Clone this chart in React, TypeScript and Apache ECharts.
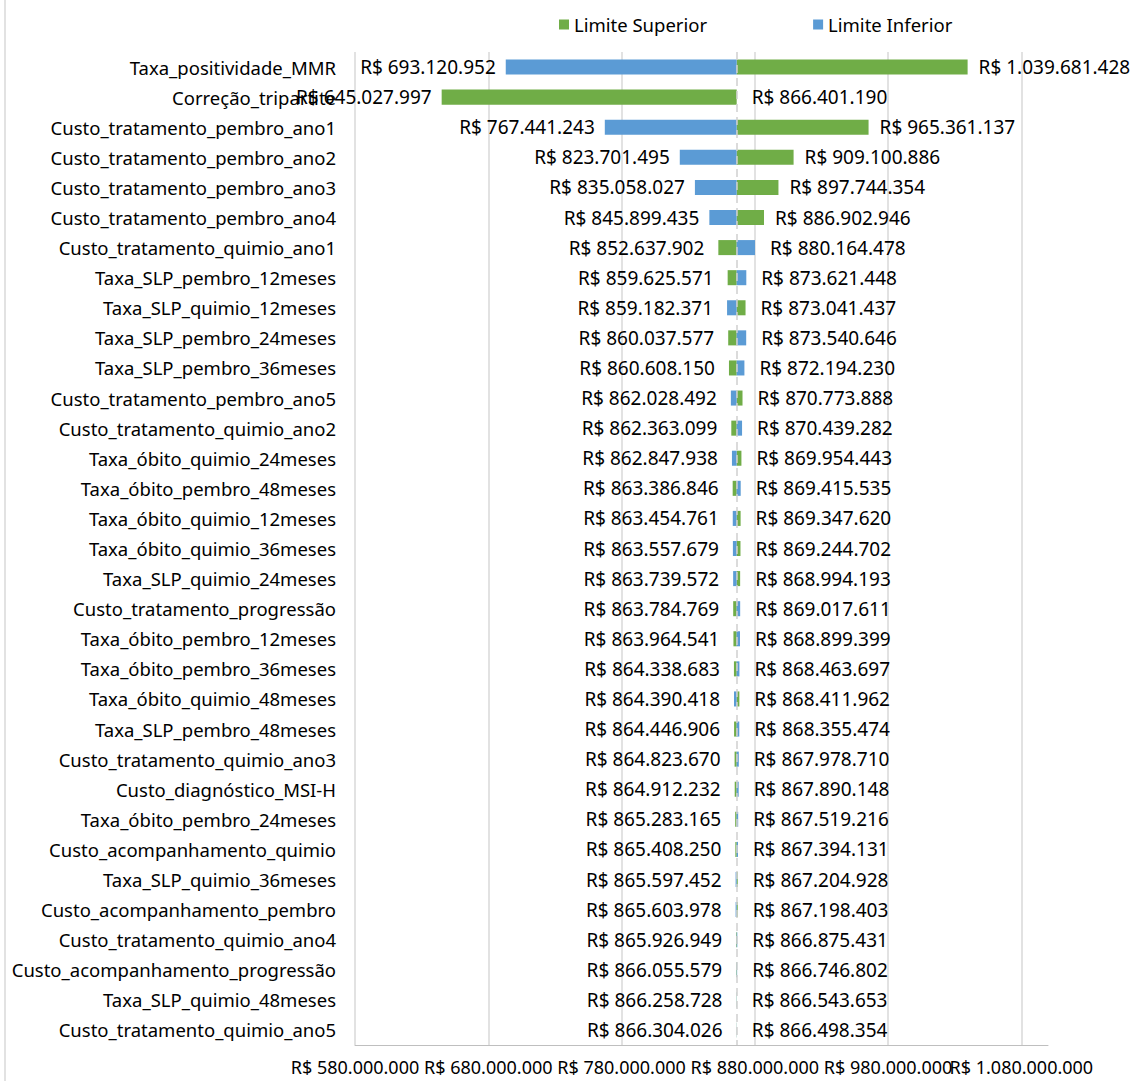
import React, { useEffect, useRef } from "react";
import * as echarts from "echarts";

const BASE = 866401190;

const categories = [
  "Taxa_positividade_MMR",
  "Correção_tripartite",
  "Custo_tratamento_pembro_ano1",
  "Custo_tratamento_pembro_ano2",
  "Custo_tratamento_pembro_ano3",
  "Custo_tratamento_pembro_ano4",
  "Custo_tratamento_quimio_ano1",
  "Taxa_SLP_pembro_12meses",
  "Taxa_SLP_quimio_12meses",
  "Taxa_SLP_pembro_24meses",
  "Taxa_SLP_pembro_36meses",
  "Custo_tratamento_pembro_ano5",
  "Custo_tratamento_quimio_ano2",
  "Taxa_óbito_quimio_24meses",
  "Taxa_óbito_pembro_48meses",
  "Taxa_óbito_quimio_12meses",
  "Taxa_óbito_quimio_36meses",
  "Taxa_SLP_quimio_24meses",
  "Custo_tratamento_progressão",
  "Taxa_óbito_pembro_12meses",
  "Taxa_óbito_pembro_36meses",
  "Taxa_óbito_quimio_48meses",
  "Taxa_SLP_pembro_48meses",
  "Custo_tratamento_quimio_ano3",
  "Custo_diagnóstico_MSI-H",
  "Taxa_óbito_pembro_24meses",
  "Custo_acompanhamento_quimio",
  "Taxa_SLP_quimio_36meses",
  "Custo_acompanhamento_pembro",
  "Custo_tratamento_quimio_ano4",
  "Custo_acompanhamento_progressão",
  "Taxa_SLP_quimio_48meses",
  "Custo_tratamento_quimio_ano5",
];

const limiteSuperior = [
  1039681428, 645027997, 965361137, 909100886, 897744354, 886902946, 852637902,
  859625571, 873041437, 860037577, 860608150, 870773888, 862363099, 869954443,
  863386846, 869347620, 869244702, 868994193, 863784769, 863964541, 864338683,
  868411962, 864446906, 864823670, 864912232, 865283165, 865408250, 867204928,
  867198403, 865926949, 866055579, 866543653, 866304026,
];

const limiteInferior = [
  693120952, 866401190, 767441243, 823701495, 835058027, 845899435, 880164478,
  873621448, 859182371, 873540646, 872194230, 862028492, 870439282, 862847938,
  869415535, 863454761, 863557679, 863739572, 869017611, 868899399, 868463697,
  864390418, 868355474, 867978710, 867890148, 867519216, 867394131, 865597452,
  865603978, 866875431, 866746802, 866258728, 866498354,
];

const axisTicks = [580000000, 680000000, 780000000, 880000000, 980000000, 1080000000];
const AXIS_MAX = 1100000000;

const FONT = "Noto Sans";
const FS_VAL = 19;
const FS_TXT = 18.5;
const FS_AXIS = 18;

const fmt = (v: number) =>
  "R$ " + Math.round(v).toString().replace(/\B(?=(\d{3})+(?!\d))/g, ".");

function makeRender(color: string) {
  return (params: any, api: any) => {
    const v = api.value(0);
    const cat = api.value(1);
    const p = api.coord([v, cat]);
    const b = api.coord([BASE, cat]);
    const h = api.size([0, 1])[1] * 0.5;
    const x0 = Math.min(p[0], b[0]);
    const w = Math.abs(p[0] - b[0]);
    const left = v < BASE;
    const gap = w < 20 ? 14 : 10;
    return {
      type: "group",
      children: [
        {
          type: "rect",
          shape: { x: x0, y: p[1] - h / 2, width: w, height: h },
          style: { fill: color },
        },
        {
          type: "text",
          style: {
            text: fmt(v),
            x: left ? x0 - gap : x0 + w + gap + 1,
            y: p[1],
            align: left ? "right" : "left",
            verticalAlign: "middle",
            fill: "#000000",
            font: `${FS_VAL}px "${FONT}"`,
          },
        },
      ],
    };
  };
}

export default function App() {
  const ref = useRef<HTMLDivElement>(null);
  useEffect(() => {
    if (!ref.current) return;
    const chart = echarts.init(ref.current, null, { renderer: "svg" });
    const supData = limiteSuperior.map((v, i) => [v, i]);
    const infData = limiteInferior.map((v, i) => [v, i]);
    chart.setOption({
      animation: false,
      backgroundColor: "#ffffff",
      textStyle: { fontFamily: FONT },
      legend: {
        data: ["Limite Superior", "Limite Inferior"],
        left: 554,
        top: 10,
        icon: "rect",
        itemWidth: 10,
        itemHeight: 10,
        itemGap: 106,
        textStyle: { fontSize: FS_TXT, color: "#000", fontFamily: FONT },
      },
      graphic: [
        {
          type: "line",
          shape: { x1: 5, y1: 0, x2: 5, y2: 1081 },
          style: { stroke: "#d9d9d9", lineWidth: 1.5 },
        },
      ],
      grid: { left: 355, right: 87, top: 52, bottom: 36, containLabel: false },
      xAxis: {
        type: "value",
        min: axisTicks[0],
        max: AXIS_MAX,
        interval: axisTicks[1] - axisTicks[0],
        axisLine: { show: true, lineStyle: { color: "#bfbfbf", width: 1 } },
        axisTick: { show: false },
        splitLine: {
          show: true,
          showMaxLine: false,
          lineStyle: { color: "#d9d9d9", width: 1.5 },
        },
        axisLabel: {
          showMaxLabel: false,
          margin: 13,
          fontSize: FS_AXIS,
          color: "#000",
          fontFamily: FONT,
          formatter: (v: number) => fmt(v),
        },
      },
      yAxis: {
        type: "category",
        data: categories,
        inverse: true,
        axisLine: { show: false },
        axisTick: { show: false },
        splitLine: { show: false },
        axisLabel: { margin: 19, fontSize: FS_TXT, color: "#000", fontFamily: FONT },
      },
      series: [
        {
          name: "Limite Superior",
          type: "custom",
          itemStyle: { color: "#70AD47" },
          encode: { x: 0, y: 1 },
          renderItem: makeRender("#70AD47"),
          data: supData,
          z: 3,
        },
        {
          name: "Limite Inferior",
          type: "custom",
          itemStyle: { color: "#5B9BD5" },
          encode: { x: 0, y: 1 },
          renderItem: makeRender("#5B9BD5"),
          data: infData,
          z: 3,
          markLine: {
            silent: true,
            symbol: "none",
            label: { show: false },
            lineStyle: { color: "#d0d0d0", type: [8, 5], width: 1.5 },
            data: [{ xAxis: BASE }],
          },
        },
      ],
    });
    return () => chart.dispose();
  }, []);
  return (
    <div
      ref={ref}
      style={{ position: "fixed", left: 0, top: 0, width: 1135, height: 1081 }}
    />
  );
}
